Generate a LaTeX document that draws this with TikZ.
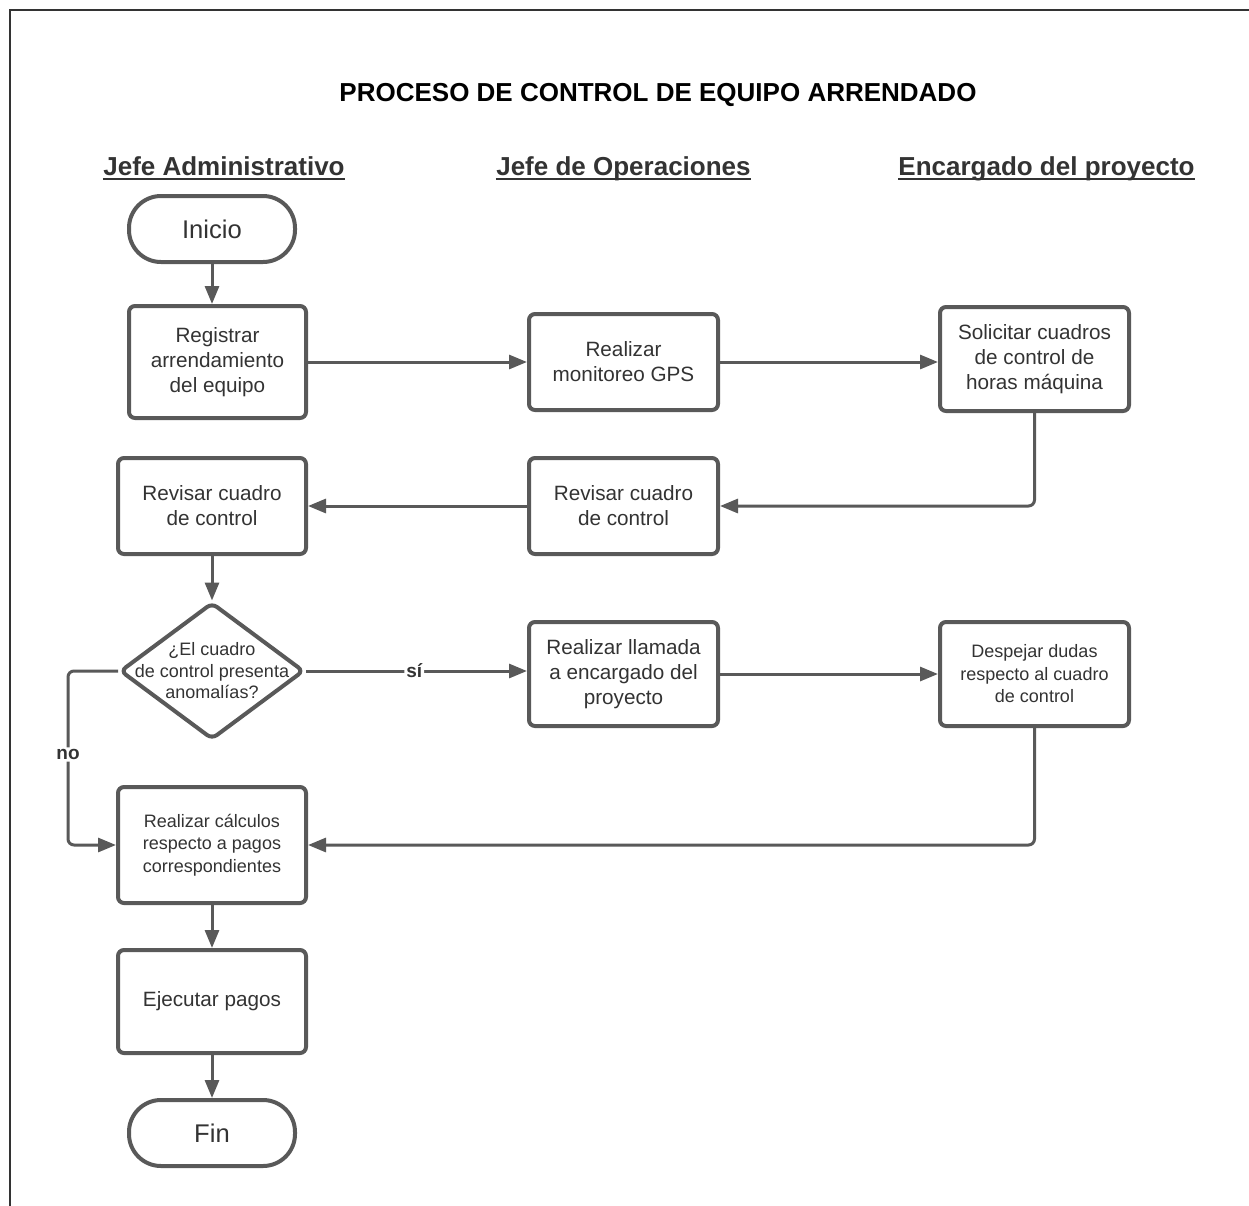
\documentclass[tikz,border=0pt]{standalone}
\usepackage{fontspec}
\setmainfont{Liberation Sans}
\usetikzlibrary{shapes.geometric,arrows.meta}

\definecolor{edge}{HTML}{595959}
\definecolor{ink}{HTML}{333333}

\tikzset{
  procbox/.style={draw=edge, line width=2pt, rounded corners=3pt, fill=white,
    text=ink, align=center, inner sep=2pt,
    font=\fontsize{10.35}{12.5}\selectfont},
  smallbox/.style={procbox, font=\fontsize{9}{11.25}\selectfont},
  terminal/.style={draw=edge, line width=2pt, rounded corners=16pt, text=ink,
    font=\fontsize{12.8}{15}\selectfont, minimum width=83pt, minimum height=33pt},
  flow/.style={draw=edge, line width=1.5pt, rounded corners=3pt,
    -{Triangle[length=9pt,width=7pt]}},
  lane/.style={font=\bfseries\fontsize{13}{15}\selectfont, text=ink,
    inner sep=0pt, anchor=base},
  lbl/.style={font=\bfseries\fontsize{9.5}{11}\selectfont, text=ink,
    fill=white, inner sep=1pt},
}

\begin{document}
\begin{tikzpicture}[x=0.5pt, y=-0.5pt]
\useasboundingbox (0,0) rectangle (1249,1206);
\fill[white] (0,0) rectangle (1249,1206);

% page frame
\draw[ink, line width=0.8pt] (10,1206) -- (10,10) -- (1249,10);

% title and swimlane headers
\node[font=\bfseries\fontsize{13}{15}\selectfont, inner sep=0pt, anchor=base]
  (title) at (658,101) {PROCESO DE CONTROL DE EQUIPO ARRENDADO};
\node[lane] (h1) at (224,175) {Jefe Administrativo};
\node[lane] (h2) at (623.5,175) {Jefe de Operaciones};
\node[lane] (h3) at (1046.5,175) {Encargado del proyecto};
\foreach \h in {h1,h2,h3}
  \draw[ink, line width=1.4pt] ([yshift=-2pt]\h.base west) -- ([yshift=-2pt]\h.base east);

% nodes
\node[terminal] (ini) at (212,229) {Inicio};
\node[procbox, minimum width=88.5pt, minimum height=56pt] (reg) at (217.5,362)
  {Registrar\\arrendamiento\\del equipo};
\node[procbox, minimum width=94.5pt, minimum height=48pt] (gps) at (623.5,362)
  {Realizar\\monitoreo GPS};
\node[procbox, minimum width=94.5pt, minimum height=52pt] (sol) at (1034.5,359)
  {Solicitar cuadros\\de control de\\horas máquina};
\node[procbox, minimum width=94pt, minimum height=48pt] (rev1) at (212,506)
  {Revisar cuadro\\de control};
\node[procbox, minimum width=94.5pt, minimum height=48pt] (rev2) at (623.5,506)
  {Revisar cuadro\\de control};
\node[diamond, draw=edge, line width=2pt, rounded corners=3pt, fill=white,
  minimum width=92pt, minimum height=68.5pt, inner sep=0pt] (dec) at (212,671) {};
\node[text=ink, align=center, font=\fontsize{9}{10.75}\selectfont, inner sep=0pt]
  (dectext) at (dec.center) {¿El cuadro\\de control presenta\\anomalías?};
\node[procbox, minimum width=94.5pt, minimum height=52pt] (call) at (623.5,674)
  {Realizar llamada\\a encargado del\\proyecto};
\node[smallbox, minimum width=94.5pt, minimum height=52pt] (desp) at (1034.5,674)
  {Despejar dudas\\respecto al cuadro\\de control};
\node[smallbox, minimum width=94pt, minimum height=58pt] (calc) at (212,845)
  {Realizar cálculos\\respecto a pagos\\correspondientes};
\node[procbox, minimum width=94pt, minimum height=51.5pt] (pay) at (212,1001.5)
  {Ejecutar pagos};
\node[terminal] (fin) at (212,1133) {Fin};

\coordinate (noturn) at (68,671);

% connectors
\draw[flow] (ini) -- (reg.north -| ini);
\draw[flow] (reg.east) -- (gps.west);
\draw[flow] (gps.east) -- (gps.east -| sol.west);
\draw[flow] (sol.south) |- (rev2.east);
\draw[flow] (rev2.west) -- (rev1.east);
\draw[flow] (rev1.south) -- (dec.north);
\draw[flow] (dec.east) -- node[lbl, pos=0.49] (si) {sí} (dec.east -| call.west);
\draw[flow] (call.east) -- (desp.west);
\draw[flow] (desp.south) |- (calc.east);
\draw[flow] (dec.west) -- (noturn) |- node[lbl, pos=0.24] (no) {no} (calc.west);
\draw[flow] (calc.south) -- (pay.north);
\draw[flow] (pay.south) -- (fin.north);
\end{tikzpicture}
\end{document}
